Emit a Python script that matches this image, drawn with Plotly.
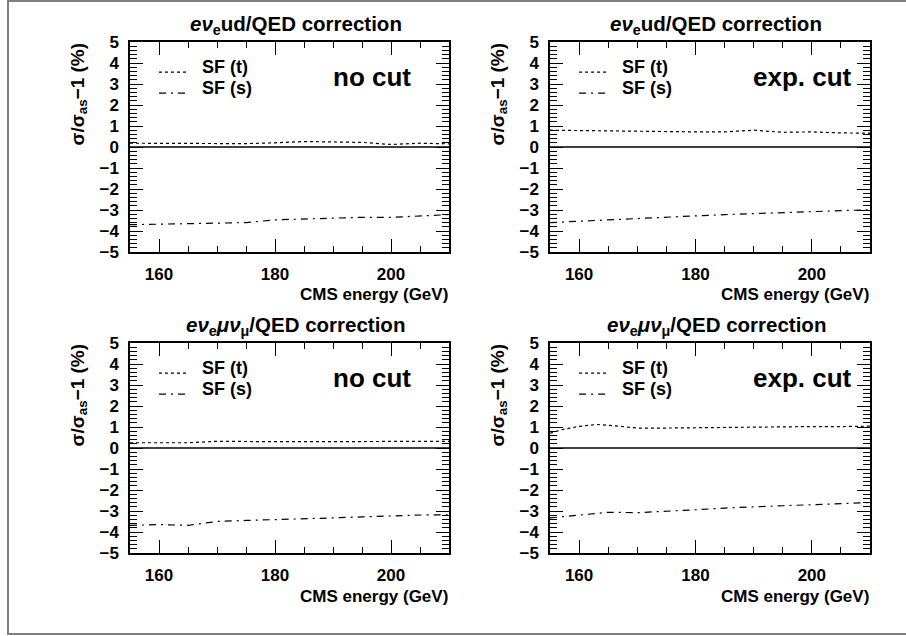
import plotly.graph_objects as go

W, H = 906, 636

# ---------------- data ----------------
ENERGY = [155, 160, 165, 170, 175, 180, 185, 190, 195, 200, 205, 210]

UD_NOCUT_T = [0.18, 0.18, 0.18, 0.18, 0.16, 0.20, 0.26, 0.24, 0.22, 0.12, 0.18, 0.15]
UD_NOCUT_S = [-3.70, -3.67, -3.63, -3.60, -3.60, -3.47, -3.43, -3.38, -3.35, -3.35, -3.27, -3.22]

UD_EXP_T = [0.80, 0.78, 0.75, 0.73, 0.72, 0.72, 0.72, 0.80, 0.70, 0.72, 0.67, 0.66]
UD_EXP_S = [-3.60, -3.53, -3.47, -3.40, -3.34, -3.28, -3.22, -3.17, -3.10, -3.07, -3.03, -2.99]

MU_NOCUT_T = [0.25, 0.25, 0.25, 0.32, 0.30, 0.30, 0.30, 0.30, 0.30, 0.30, 0.32, 0.32]
MU_NOCUT_S = [-3.68, -3.65, -3.68, -3.50, -3.45, -3.42, -3.38, -3.33, -3.28, -3.22, -3.19, -3.18]

ENERGY_MU_EXP_T = [155, 157, 160, 163, 166, 170, 175, 180, 185, 190, 195, 200, 205, 210]
MU_EXP_T = [0.70, 0.87, 1.03, 1.12, 1.06, 0.95, 0.95, 0.97, 0.98, 1.00, 1.00, 1.02, 1.02, 1.04]
MU_EXP_S = [-3.33, -3.18, -3.06, -3.08, -3.02, -2.94, -2.86, -2.79, -2.75, -2.70, -2.65, -2.60]

TITLES = ["<b><i>eν</i><sub>e</sub>ud/QED correction</b>",
          "<b><i>eν</i><sub>e</sub>ud/QED correction</b>",
          "<b><i>eν</i><sub>e</sub><i>μν</i><sub>μ</sub>/QED correction</b>",
          "<b><i>eν</i><sub>e</sub><i>μν</i><sub>μ</sub>/QED correction</b>"]
CUT_LABELS = ["no cut", "exp. cut", "no cut", "exp. cut"]
LEGEND_NAMES = ["SF (t)", "SF (s)"]
X_TITLE = "CMS energy (GeV)"
Y_TITLE = "σ/σ<sub>as</sub>−1 (%)"

PANELS = [
    (ENERGY, UD_NOCUT_T, ENERGY, UD_NOCUT_S),
    (ENERGY, UD_EXP_T, ENERGY, UD_EXP_S),
    (ENERGY, MU_NOCUT_T, ENERGY, MU_NOCUT_S),
    (ENERGY_MU_EXP_T, MU_EXP_T, ENERGY, MU_EXP_S),
]

# ---------------- layout (pixel boxes) ----------------
BOXES = [(130, 449, 42, 252), (550, 870, 42, 252),
         (130, 449, 343, 553), (550, 870, 343, 553)]
CUT_RIGHT = [412, 853, 412, 853]

FONT = "Liberation Sans"
DASHDOT = "7px,5px,2px,5px"


def px(x):
    return x / W


def py(y):
    return 1 - y / H


def b(t):
    return f"<b>{t}</b>"


fig = go.Figure()
layout = dict(
    width=W, height=H, margin=dict(l=0, r=0, t=0, b=0, pad=0, autoexpand=False),
    paper_bgcolor="white", plot_bgcolor="white", showlegend=False,
    font=dict(family=FONT, color="black"),
)
annotations = []
shapes = []

for i, (box, data) in enumerate(zip(BOXES, PANELS)):
    x0, x1, y0, y1 = box
    n = i + 1
    xa = "x" if n == 1 else f"x{n}"
    ya = "y" if n == 1 else f"y{n}"
    xt, yt, xs, ys = data

    fig.add_trace(go.Scatter(x=xt, y=yt, mode="lines", xaxis=xa, yaxis=ya,
                             line=dict(color="black", width=1.2, dash="dot")))
    fig.add_trace(go.Scatter(x=xs, y=ys, mode="lines", xaxis=xa, yaxis=ya,
                             line=dict(color="black", width=1.2, dash=DASHDOT)))

    common_axis = dict(showline=True, linecolor="black", linewidth=1.5, mirror="allticks",
                       ticks="inside", showgrid=False, zeroline=False, automargin=False,
                       tickfont=dict(family=FONT, size=17, color="black", weight="bold"),
                       tickcolor="black")
    layout[f"xaxis{'' if n == 1 else n}"] = dict(
        common_axis, domain=[px(x0), px(x1)], anchor=ya, range=[155, 210],
        tick0=160, dtick=20, ticklen=13, tickwidth=1.2,
        minor=dict(dtick=5, tick0=160, ticklen=6, ticks="inside", tickcolor="black", tickwidth=1),
        ticklabelstandoff=6)
    layout[f"yaxis{'' if n == 1 else n}"] = dict(
        common_axis, domain=[py(y1), py(y0)], anchor=xa, range=[-5, 5],
        tick0=0, dtick=1, ticklen=13, tickwidth=1.2,
        minor=dict(dtick=0.2, tick0=0, ticklen=7, ticks="inside", tickcolor="black", tickwidth=1),
        ticklabelstandoff=6)

    # zero line
    shapes.append(dict(type="line", xref=f"{xa} domain", yref=ya, x0=0, x1=1, y0=0, y1=0,
                       line=dict(color="black", width=1.3)))
    # legend samples
    for k, (dash, yv) in enumerate([("dot", 3.57), (DASHDOT, 2.57)]):
        shapes.append(dict(type="line", xref=xa, yref=ya, x0=160, x1=165, y0=yv, y1=yv,
                           line=dict(color="black", width=1.2, dash=dash)))
        annotations.append(dict(xref=xa, yref=ya, x=167, y=yv + 0.25, text=b(LEGEND_NAMES[k]),
                                showarrow=False, xanchor="left", yanchor="middle",
                                font=dict(size=18, family=FONT)))
    # cut label
    annotations.append(dict(xref="paper", yref="paper", x=px(CUT_RIGHT[i] + 1), y=py(y0 + 35),
                            text=b(CUT_LABELS[i]), showarrow=False, xanchor="right",
                            yanchor="middle", font=dict(size=26, family=FONT)))
    # title
    annotations.append(dict(xref="paper", yref="paper", x=px((x0 + x1) / 2 + 6), y=py(y0 - 17),
                            text=TITLES[i], showarrow=False, xanchor="center",
                            yanchor="middle", font=dict(size=20.5, family=FONT)))
    # x title
    annotations.append(dict(xref="paper", yref="paper", x=px(x1 + 1), y=py(y1 + 43),
                            text=b(X_TITLE), showarrow=False, xanchor="right",
                            yanchor="middle", font=dict(size=17, family=FONT)))
    # y title
    annotations.append(dict(xref="paper", yref="paper", x=px(x0 - 52), y=py(y0 - 1),
                            text=b(Y_TITLE), showarrow=False, textangle=-90, xanchor="center",
                            yanchor="top", font=dict(size=19, family=FONT)))

# outer frame
shapes.append(dict(type="rect", xref="paper", yref="paper", x0=px(8), x1=px(920),
                   y0=py(634), y1=py(1), line=dict(color="#808080", width=2)))

layout["annotations"] = annotations
layout["shapes"] = shapes
fig.update_layout(**layout)
fig.write_html("out.html", config={"displayModeBar": False},
               post_script="document.body.style.margin='0px';document.body.style.overflow='hidden';")
